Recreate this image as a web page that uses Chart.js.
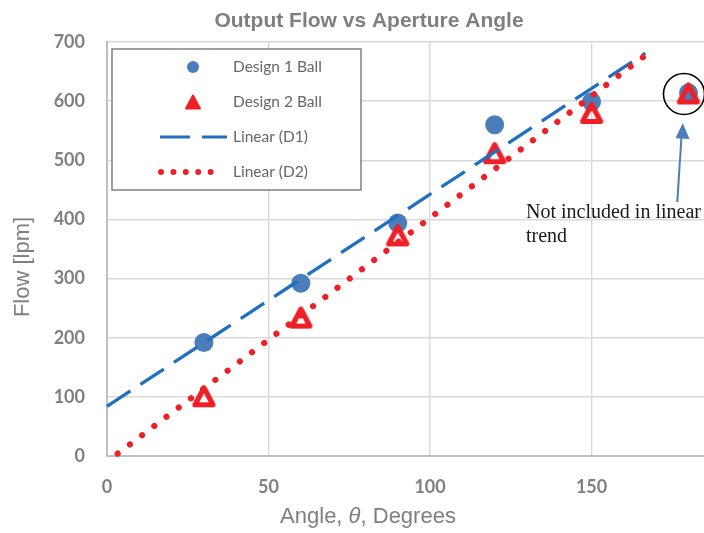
<!DOCTYPE html>
<html>
<head>
<meta charset="utf-8">
<script src="https://cdn.jsdelivr.net/npm/chart.js@4"></script>
<style>
  html, body { margin: 0; padding: 0; background: #ffffff; overflow: hidden; }
  #wrap { width: 704px; height: 533px; }
</style>
</head>
<body>
<div id="wrap"><canvas id="c" width="704" height="533"></canvas></div>
<script>
// ---- data ----
const angles = [30, 60, 90, 120, 150, 180];
const design1 = [192, 292, 394, 560, 599, 614];
const design2 = [101, 234, 373, 512, 580, 613];
const trendD1X = [0, 166.6];
const trendD1Y = [84, 681];
const trendD2X = [3.3, 167.8];
const trendD2Y = [4, 682];
const xTickValues = [0, 50, 100, 150];
const yTickValues = [0, 100, 200, 300, 400, 500, 600, 700];
const seriesNames = ['Design 1 Ball', 'Design 2 Ball', 'Linear (D1)', 'Linear (D2)'];
const chartTitle = 'Output Flow vs Aperture Angle';
const xTitleParts = ['Angle, ', '\u03B8', ', Degrees'];
const yTitle = 'Flow [lpm]';
const noteLines = ['Not included in linear', 'trend'];

// ---- styles ----
const BLUE_MARK = '#4a7ebb';
const BLUE_LINE = '#1f70c1';
const RED = '#ee1f26';
const GREY_TXT = '#7f7f7f';

function triSprite() {
  const c = document.createElement('canvas');
  c.width = 30; c.height = 30;
  const g = c.getContext('2d');
  g.strokeStyle = RED;
  g.lineWidth = 5.2;
  g.lineJoin = 'round';
  g.beginPath();
  g.moveTo(15, 6.5);
  g.lineTo(24, 23.5);
  g.lineTo(6, 23.5);
  g.closePath();
  g.stroke();
  return c;
}

const pts = (xs, ys) => xs.map((x, i) => ({ x: x, y: ys[i] }));

const overlay = {
  id: 'overlay',
  afterDraw(chart) {
    const ctx = chart.ctx;
    ctx.save();
    // title
    ctx.fillStyle = GREY_TXT;
    ctx.font = 'bold 21px "Liberation Sans", Arial, sans-serif';
    ctx.textAlign = 'center';
    ctx.textBaseline = 'alphabetic';
    ctx.fillText(chartTitle, 369, 27);
    // x axis title, theta in italics
    const fN = '22px "Liberation Sans", Arial, sans-serif';
    const fI = 'italic 22px "Liberation Sans", Arial, sans-serif';
    ctx.textAlign = 'left';
    ctx.font = fN;
    const w0 = ctx.measureText(xTitleParts[0]).width;
    const w2 = ctx.measureText(xTitleParts[2]).width;
    ctx.font = fI;
    const w1 = ctx.measureText(xTitleParts[1]).width;
    let xx = 368 - (w0 + w1 + w2) / 2;
    ctx.font = fN; ctx.fillText(xTitleParts[0], xx, 523); xx += w0;
    ctx.font = fI; ctx.fillText(xTitleParts[1], xx, 523); xx += w1;
    ctx.font = fN; ctx.fillText(xTitleParts[2], xx, 523);
    // y axis title
    ctx.save();
    ctx.translate(23, 267);
    ctx.rotate(-Math.PI / 2);
    ctx.textAlign = 'center';
    ctx.textBaseline = 'middle';
    ctx.font = fN;
    ctx.fillText(yTitle, 0, 0);
    ctx.restore();

    // legend box
    ctx.fillStyle = '#ffffff';
    ctx.fillRect(112, 49, 249, 141);
    ctx.strokeStyle = '#808080';
    ctx.lineWidth = 1.5;
    ctx.strokeRect(112, 49, 249, 141);
    // legend symbols
    ctx.fillStyle = BLUE_MARK;
    ctx.beginPath();
    ctx.arc(193, 67, 6, 0, Math.PI * 2);
    ctx.fill();
    ctx.fillStyle = RED;
    ctx.strokeStyle = RED;
    ctx.lineJoin = 'round';
    ctx.lineWidth = 2;
    ctx.beginPath();
    ctx.moveTo(193, 95.5);
    ctx.lineTo(200, 108.5);
    ctx.lineTo(186, 108.5);
    ctx.closePath();
    ctx.fill();
    ctx.stroke();
    ctx.strokeStyle = BLUE_LINE;
    ctx.lineWidth = 3.2;
    ctx.lineCap = 'butt';
    ctx.setLineDash([30, 12]);
    ctx.beginPath();
    ctx.moveTo(160, 137);
    ctx.lineTo(227, 137);
    ctx.stroke();
    ctx.setLineDash([]);
    ctx.fillStyle = RED;
    for (let i = 0; i < 5; i++) {
      ctx.beginPath();
      ctx.arc(161 + 12.4 * i, 172, 3, 0, Math.PI * 2);
      ctx.fill();
    }
    // legend text
    ctx.fillStyle = '#666666';
    ctx.font = '15.5px Lato, "Open Sans", sans-serif';
    ctx.textAlign = 'left';
    ctx.textBaseline = 'middle';
    [67, 102, 137, 172].forEach((yy, i) => ctx.fillText(seriesNames[i], 233, yy));

    // note text
    ctx.fillStyle = '#1a1a1a';
    ctx.font = '20px "Liberation Serif", "Times New Roman", serif';
    ctx.textBaseline = 'alphabetic';
    ctx.fillText(noteLines[0], 526, 218);
    ctx.fillText(noteLines[1], 526, 242);

    // circle around excluded point
    ctx.strokeStyle = '#000000';
    ctx.lineWidth = 1.6;
    ctx.beginPath();
    ctx.arc(684, 94, 20.5, 0, Math.PI * 2);
    ctx.stroke();

    // arrow
    ctx.strokeStyle = BLUE_MARK;
    ctx.fillStyle = BLUE_MARK;
    ctx.lineWidth = 2;
    ctx.beginPath();
    ctx.moveTo(677.3, 202);
    ctx.lineTo(681.5, 136);
    ctx.stroke();
    ctx.beginPath();
    ctx.moveTo(682.7, 123);
    ctx.lineTo(689.5, 139);
    ctx.lineTo(675.5, 138.2);
    ctx.closePath();
    ctx.fill();
    ctx.restore();
  }
};

const tri = triSprite();

new Chart(document.getElementById('c'), {
  type: 'scatter',
  data: {
    datasets: [
      {
        label: seriesNames[3],
        type: 'line',
        data: pts(trendD2X, trendD2Y),
        borderColor: RED,
        borderWidth: 6.2,
        borderDash: [0.001, 15.3],
        borderCapStyle: 'round',
        pointRadius: 0,
        fill: false,
        showLine: true,
        clip: false
      },
      {
        label: seriesNames[2],
        type: 'line',
        data: pts(trendD1X, trendD1Y),
        borderColor: BLUE_LINE,
        borderWidth: 3.3,
        borderDash: [28, 12],
        borderCapStyle: 'butt',
        pointRadius: 0,
        fill: false,
        showLine: true,
        clip: false
      },
      {
        label: seriesNames[1],
        data: pts(angles, design2),
        pointStyle: tri,
        pointRadius: 12,
        clip: false
      },
      {
        label: seriesNames[0],
        data: pts(angles, design1),
        backgroundColor: BLUE_MARK,
        borderWidth: 0,
        pointStyle: 'circle',
        pointRadius: 9.5,
        clip: false
      }
    ]
  },
  options: {
    responsive: false,
    animation: false,
    events: [],
    layout: { autoPadding: false, padding: { top: 42, right: 0, left: 0, bottom: 0 } },
    plugins: {
      legend: { display: false },
      title: { display: false },
      tooltip: { enabled: false }
    },
    scales: {
      x: {
        type: 'linear',
        min: 0,
        max: 184.8,
        afterFit(s) { s.height = 77; s.paddingLeft = 0; s.paddingRight = 0; },
        afterBuildTicks(s) { s.ticks = xTickValues.map(v => ({ value: v })); },
        ticks: {
          stepSize: 50,
          includeBounds: false,
          padding: 20,
          color: GREY_TXT,
          font: { family: 'Lato', size: 18, weight: 'bold' }
        },
        grid: { color: '#d9d9d9', lineWidth: 1.4, drawTicks: false },
        border: { color: '#bfbfbf', width: 2 }
      },
      y: {
        min: 0,
        max: 700,
        afterFit(s) { s.width = 107; s.paddingTop = 0; s.paddingBottom = 0; },
        afterBuildTicks(s) { s.ticks = yTickValues.map(v => ({ value: v })); },
        ticks: {
          stepSize: 100,
          padding: 22,
          color: GREY_TXT,
          font: { family: 'Lato', size: 18, weight: 'bold' }
        },
        grid: { color: '#d9d9d9', lineWidth: 1.4, drawTicks: false },
        border: { color: '#bfbfbf', width: 2 }
      }
    }
  },
  plugins: [overlay]
});
</script>
</body>
</html>
